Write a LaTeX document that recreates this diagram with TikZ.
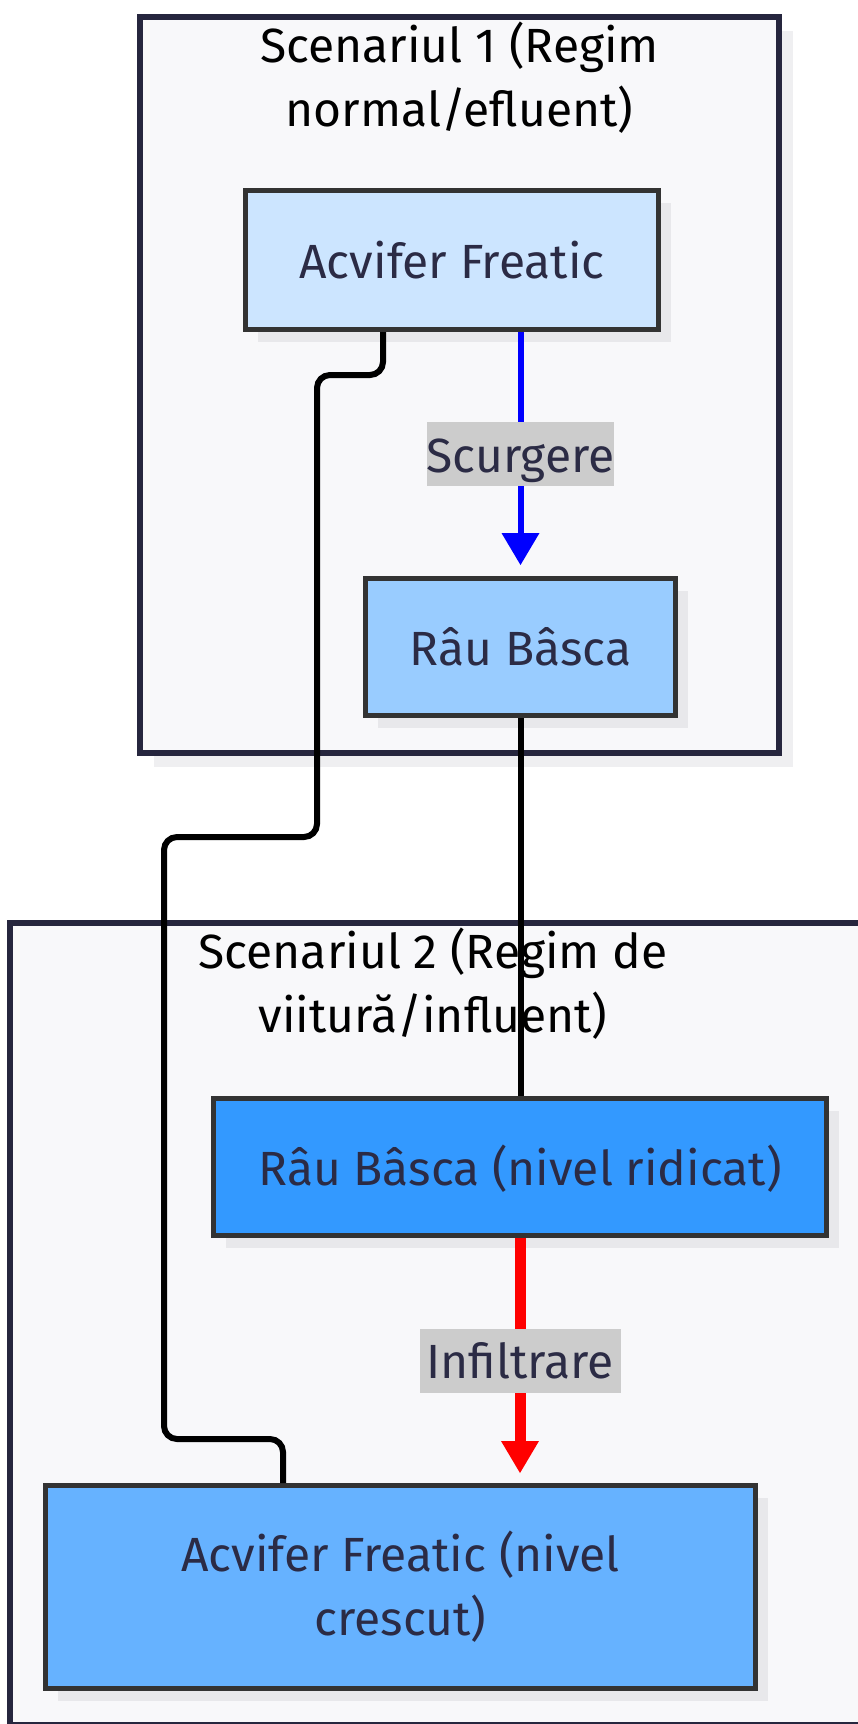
\documentclass[tikz,border=0pt]{standalone}
\usepackage{fontspec}
\setmainfont{Fira Sans}
\usetikzlibrary{arrows.meta,shadows}

\definecolor{clusterfill}{HTML}{F8F8FA}
\definecolor{clusterline}{HTML}{26263E}
\definecolor{clustershadow}{HTML}{EFEFF1}
\definecolor{nodeshadow}{HTML}{E8E8EB}
\definecolor{nodeline}{HTML}{333333}
\definecolor{textnavy}{HTML}{2B2B45}
\definecolor{aquiferlow}{HTML}{CCE5FF}
\definecolor{riverlow}{HTML}{99CCFF}
\definecolor{riverhigh}{HTML}{3399FF}
\definecolor{aquiferhigh}{HTML}{66B2FF}
\definecolor{labelgray}{HTML}{CCCCCC}
\definecolor{flowblue}{HTML}{0000FF}
\definecolor{flowred}{HTML}{FF0000}

\begin{document}
\begin{tikzpicture}[x=1pt,y=-1pt,
  txt/.style={font=\fontsize{48}{64}\selectfont},
  oneline/.style={text height=36pt, text depth=0pt},
  cluster/.style={draw=clusterline, fill=clusterfill, line width=6pt},
  title/.style={txt, text=black, align=center, inner sep=0pt},
  box/.style={txt, draw=nodeline, line width=5pt, text=textnavy, align=center,
    inner sep=0pt,
    drop shadow={shadow xshift=12pt, shadow yshift=-12pt, fill=nodeshadow, opacity=1}},
  edgelabel/.style={txt, oneline, fill=labelgray, text=textnavy, inner sep=0pt,
    minimum height=64pt},
  link/.style={draw=black, line width=6pt},
  seepage/.style={draw=flowblue, line width=6pt,
    -{Triangle[width=38pt,length=32pt,line width=0pt]}, shorten >=11pt},
  infil/.style={draw=flowred, line width=11pt,
    -{Triangle[width=38pt,length=32pt,line width=0pt]}, shorten >=10pt}
]
\useasboundingbox (0,0) rectangle (857,1724);
\fill[white] (0,0) rectangle (857,1724);

% Scenario 1 container
\fill[clustershadow] (154,31) rectangle (793,767);
\draw[cluster] (140,17) rectangle (779,753);
\node[title, anchor=base] (T1) at (459.5,126) {Scenariul 1 (Regim\\normal/efluent)};

% Scenario 2 container
\draw[cluster] (10,922.5) rectangle (880,1725);
\node[title, anchor=base] (T2) at (433,1032) {Scenariul 2 (Regim de\\viitură/influent)};

% Nodes
\node[box, oneline, fill=aquiferlow, minimum width=413pt, minimum height=139pt] (A1) at (452,260) {Acvifer Freatic};
\node[box, oneline, fill=riverlow, minimum width=310pt, minimum height=137pt] (R1) at (520.5,647) {Râu Bâsca};
\node[box, oneline, fill=riverhigh, minimum width=613pt, minimum height=137pt] (R2) at (520,1167) {Râu Bâsca (nivel ridicat)};
\node[box, fill=aquiferhigh, minimum width=710pt, minimum height=203pt] (A2) at (400.5,1587) {Acvifer Freatic (nivel\\crescut)};

% Connectors
\draw[seepage] (A1.south -| R1.north) -- node[edgelabel, minimum width=185pt] (L1) {Scurgere} (R1.north);
\draw[link] (R1.south) -- (R1.south |- R2.north);
\draw[infil] (R2.south) -- node[edgelabel, minimum width=201pt] (L2) {Infiltrare} (R2.south |- A2.north);
\draw[link, rounded corners=13pt] ([xshift=-69pt]A1.south) |- (317,375) |- (164,837) |- (283,1439) -- ([xshift=-117.5pt]A2.north);
\end{tikzpicture}
\end{document}
